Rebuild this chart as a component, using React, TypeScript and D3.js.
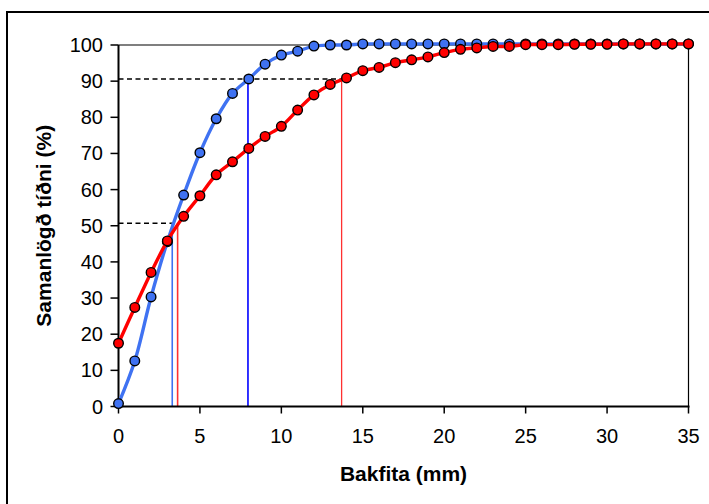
import * as React from 'react'
import * as d3 from 'd3'

// cumulative frequency (%) against backfat depth (mm)
const depth = d3.range(0, 36)
const blueSeries = [
  0.8, 12.6, 30.3, 45.6, 58.5, 70.2, 79.6, 86.6, 90.6, 94.7, 97.2, 98.3, 99.7, 100, 100, 100.3,
  100.3, 100.3, 100.3, 100.3, 100.3, 100.3, 100.3, 100.3, 100.3, 100.3, 100.3, 100.3, 100.3, 100.3,
  100.3, 100.3, 100.3, 100.3, 100.3, 100.3,
]
const redSeries = [
  17.5, 27.4, 37.1, 45.8, 52.6, 58.3, 64.1, 67.7, 71.4, 74.7, 77.5, 82.0, 86.2, 89.1, 90.9, 92.9,
  93.8, 95.1, 95.9, 96.7, 97.9, 98.8, 99.2, 99.6, 99.6, 100.1, 100.1, 100.1, 100.2, 100.2, 100.2,
  100.3, 100.3, 100.3, 100.3, 100.3,
]
// read-off guides: level (%) and depth where each series crosses it
const guideLevels = [50.7, 90.6]
const blueCross = [3.3, 7.95]
const redCross = [3.63, 13.7]
const xTicks = [0, 5, 10, 15, 20, 25, 30, 35]
const yTicks = [0, 10, 20, 30, 40, 50, 60, 70, 80, 90, 100]

const W = 709
const H = 504
const m = { left: 118.5, right: 688.5, top: 45, bottom: 406.5 }

export default function App() {
  const x = d3.scaleLinear().domain([0, 35]).range([m.left, m.right])
  const y = d3.scaleLinear().domain([0, 100]).range([m.bottom, m.top])

  const line = d3
    .line<number>()
    .x((_, i) => x(depth[i]))
    .y((d) => y(d))
    .curve(d3.curveCatmullRom.alpha(0.5))

  const font = 'Arial, "Liberation Sans", sans-serif'
  const blue = '#3f72f2'
  const red = '#ff0000'

  return (
    <svg
      width={W}
      height={H}
      style={{ position: 'absolute', left: 0, top: 0, background: '#fff' }}
      fontFamily={font}
    >
      <rect x={7} y={12} width={740} height={540} fill="#fff" stroke="#000" strokeWidth={2} />

      {/* plot frame */}
      <line x1={m.left} x2={m.right} y1={m.top} y2={m.top} stroke="#000" strokeWidth={1.2} />
      <line x1={m.right} x2={m.right} y1={m.top} y2={m.bottom} stroke="#000" strokeWidth={1.2} />

      {/* dashed guides */}
      {guideLevels.map((lv, i) => (
        <line
          key={'g' + i}
          x1={m.left}
          x2={x(redCross[i])}
          y1={y(lv)}
          y2={y(lv)}
          stroke="#000"
          strokeWidth={1.4}
          strokeDasharray="5,3.5"
        />
      ))}
      <line x1={x(blueCross[0])} x2={x(blueCross[0])} y1={m.bottom} y2={y(guideLevels[0])} stroke={blue} strokeWidth={1.6} />
      <line x1={x(redCross[0])} x2={x(redCross[0])} y1={m.bottom} y2={y(guideLevels[0])} stroke="#ff3030" strokeWidth={1.6} />
      <line x1={x(blueCross[1])} x2={x(blueCross[1])} y1={m.bottom} y2={y(guideLevels[1])} stroke="#0000ff" strokeWidth={1.6} />
      <line x1={x(redCross[1])} x2={x(redCross[1])} y1={m.bottom} y2={y(guideLevels[1])} stroke="#ff3030" strokeWidth={1.3} />

      {/* axes */}
      <line x1={m.left} x2={m.left} y1={m.top} y2={m.bottom + 1} stroke="#000" strokeWidth={2} />
      <line x1={m.left - 1} x2={m.right + 1} y1={m.bottom} y2={m.bottom} stroke="#000" strokeWidth={2} />
      {yTicks.map((t) => (
        <g key={'y' + t}>
          <line x1={m.left - 8} x2={m.left} y1={y(t)} y2={y(t)} stroke="#000" strokeWidth={1.5} />
          <text x={103} y={y(t) + 7} textAnchor="end" fontSize={20}>
            {t}
          </text>
        </g>
      ))}
      {xTicks.map((t) => (
        <g key={'x' + t}>
          <line x1={x(t)} x2={x(t)} y1={m.bottom} y2={m.bottom + 7} stroke="#000" strokeWidth={1.5} />
          <text x={x(t)} y={443} textAnchor="middle" fontSize={20}>
            {t}
          </text>
        </g>
      ))}

      {/* series */}
      <path d={line(blueSeries) ?? ''} fill="none" stroke={blue} strokeWidth={3.4} />
      {blueSeries.map((v, i) => (
        <circle key={'bp' + i} cx={x(depth[i])} cy={y(v)} r={4.8} fill={blue} stroke="#000" strokeWidth={1.4} />
      ))}
      <path d={line(redSeries) ?? ''} fill="none" stroke={red} strokeWidth={3.4} />
      {redSeries.map((v, i) => (
        <circle key={'rp' + i} cx={x(depth[i])} cy={y(v)} r={4.8} fill={red} stroke="#000" strokeWidth={1.4} />
      ))}

      {/* titles */}
      <text x={(m.left + m.right) / 2} y={481} textAnchor="middle" fontSize={21} fontWeight="bold">
        Bakfita (mm)
      </text>
      <text
        transform={`translate(51, ${(m.top + m.bottom) / 2}) rotate(-90)`}
        textAnchor="middle"
        fontSize={21}
        fontWeight="bold"
      >
        Samanlögð tíðni (%)
      </text>
    </svg>
  )
}
